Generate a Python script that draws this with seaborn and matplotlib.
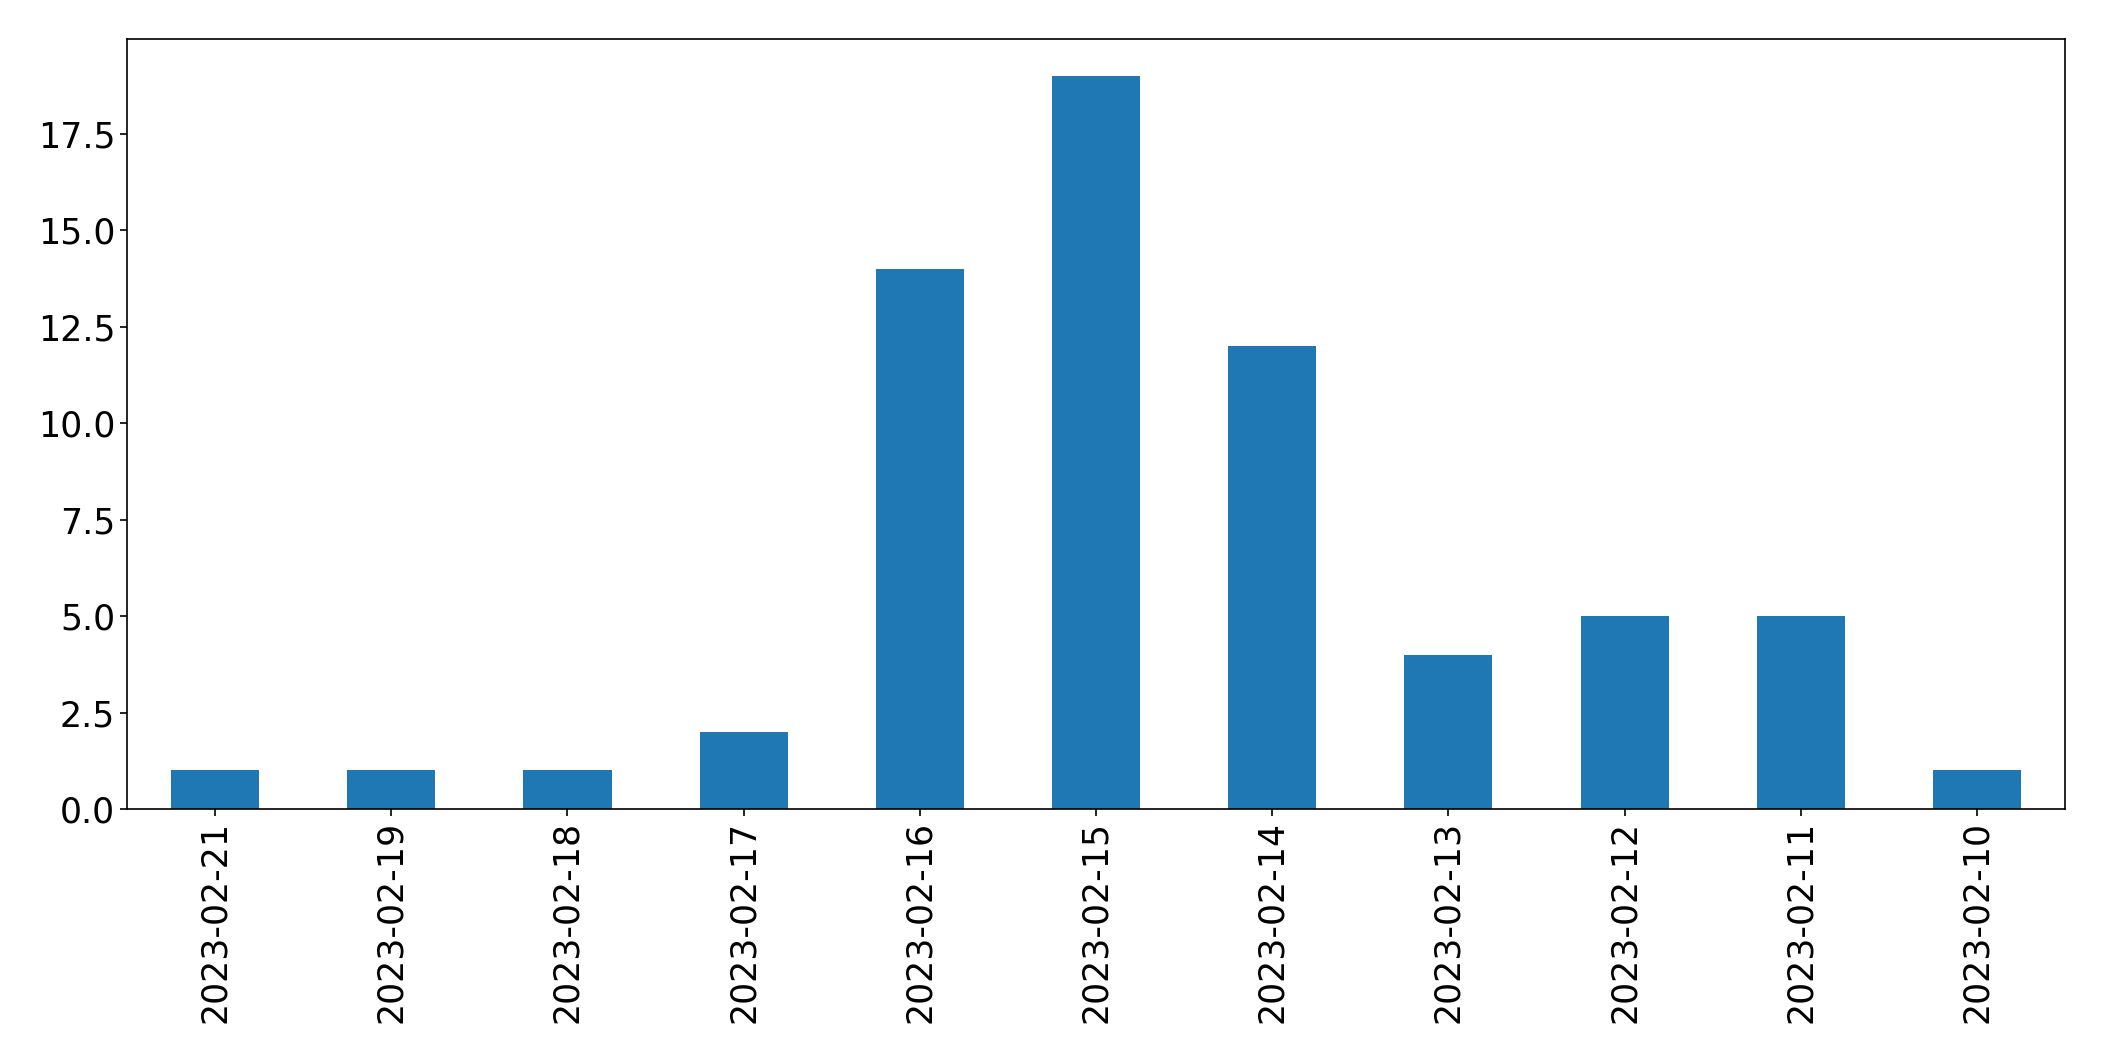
import matplotlib
matplotlib.use("Agg")
import matplotlib.pyplot as plt
import seaborn as sns
import pandas as pd

dates = ["2023-02-21", "2023-02-19", "2023-02-18", "2023-02-17", "2023-02-16",
         "2023-02-15", "2023-02-14", "2023-02-13", "2023-02-12", "2023-02-11",
         "2023-02-10"]
counts = [1, 1, 1, 2, 14, 19, 12, 4, 5, 5, 1]

df = pd.DataFrame({"date": dates, "count": counts})

fig = plt.figure(figsize=(21.04, 10.61), dpi=100)
ax = fig.add_axes([127 / 2104, 1 - 809 / 1061, (2065 - 127) / 2104, (809 - 39) / 1061])
sns.barplot(data=df, x="date", y="count", order=dates, color="#1f77b4",
            saturation=1, width=0.5, ax=ax, errorbar=None, linewidth=0)
ax.set_xlim(-0.5, len(dates) - 0.5)
ax.set_ylim(0, max(counts) * 1.05)
ax.set_xlabel("")
ax.set_ylabel("")
ax.tick_params(axis="both", labelsize=25, length=5, width=1.2)
ax.tick_params(axis="x", labelrotation=90)
for s in ax.spines.values():
    s.set_linewidth(1.2)
fig.savefig("out.png", dpi=100)
